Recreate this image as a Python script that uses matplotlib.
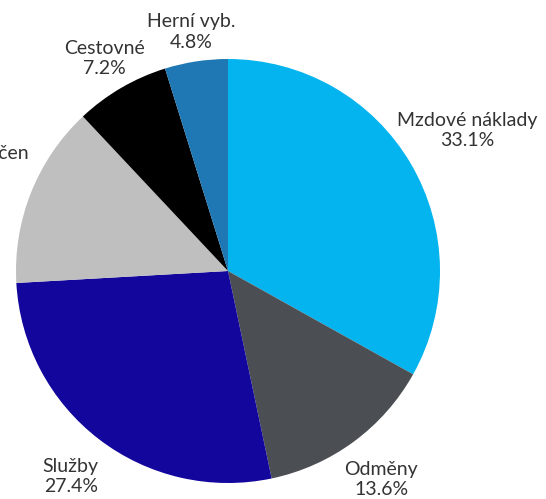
import matplotlib.pyplot as plt
import numpy as np

# slices, clockwise from the top
categories = ["Mzdové náklady", "Odměny", "Služby", "Ostatní neurčen", "Cestovné", "Herní vyb."]
shares = [33.1, 13.6, 27.4, 13.9, 7.2, 4.8]
colors = ["#04b4ef", "#4b4f54", "#12069c", "#bfbfbf", "#000000", "#1f78b4"]
label_dist = [1.31, 1.22, 1.22, 1.36, 1.16, 1.14]

plt.rcParams["font.family"] = ["Lato", "DejaVu Sans"]

fig = plt.figure(figsize=(5.46, 4.99), dpi=100)
R = 212
cx, cy = 228, 271
ax = fig.add_axes([(cx - R) / 546, (499 - cy - R) / 499, 2 * R / 546, 2 * R / 499])

wedges, _ = ax.pie(shares, colors=colors, startangle=90, counterclock=False,
                   radius=1, wedgeprops={"linewidth": 0})
ax.set_xlim(-1, 1)
ax.set_ylim(-1, 1)
ax.set_aspect("equal")
ax.axis("off")

for w, name, val, d in zip(wedges, categories, shares, label_dist):
    ang = np.deg2rad((w.theta1 + w.theta2) / 2)
    ax.text(d * np.cos(ang), d * np.sin(ang), f"{name}\n{val:.1f}%",
            ha="center", va="center", multialignment="center",
            fontsize=14, color="#333333", linespacing=1.25)

fig.savefig("out.png", dpi=100)
